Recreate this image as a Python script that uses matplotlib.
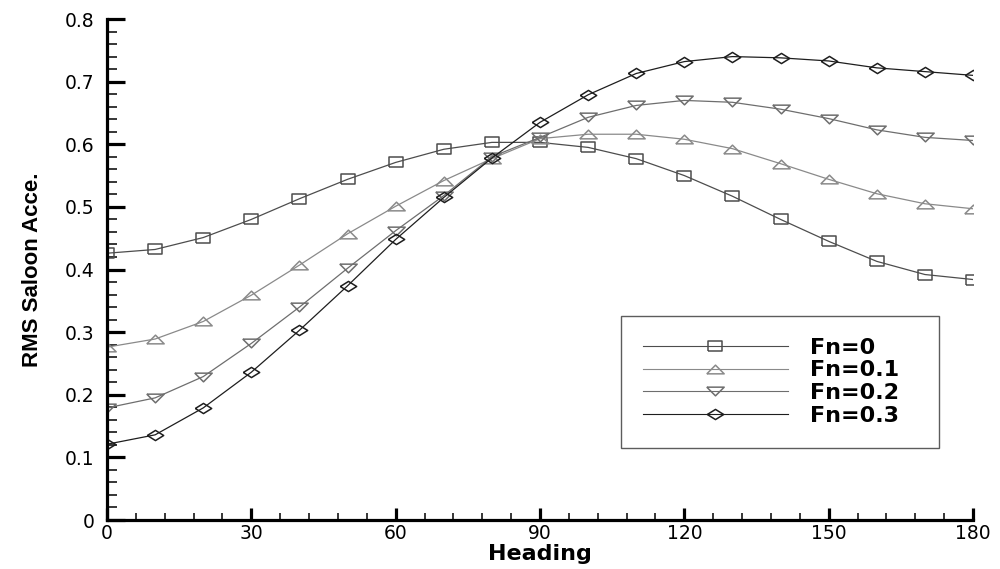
import matplotlib
matplotlib.use("Agg")
import matplotlib.pyplot as plt
from matplotlib import font_manager
from matplotlib.ticker import MultipleLocator, FixedLocator, FixedFormatter

heading = [0, 10, 20, 30, 40, 50, 60, 70, 80, 90, 100, 110, 120, 130, 140, 150, 160, 170, 180]
fn0 = [0.426, 0.432, 0.451, 0.480, 0.513, 0.544, 0.571, 0.592, 0.603, 0.603, 0.595, 0.577, 0.550,
       0.517, 0.480, 0.445, 0.413, 0.392, 0.384]
fn01 = [0.276, 0.289, 0.317, 0.359, 0.407, 0.457, 0.501, 0.542, 0.577, 0.609, 0.616, 0.616, 0.608,
        0.593, 0.569, 0.544, 0.521, 0.505, 0.497]
fn02 = [0.179, 0.195, 0.229, 0.282, 0.340, 0.402, 0.462, 0.518, 0.580, 0.611, 0.643, 0.662, 0.670,
        0.667, 0.656, 0.641, 0.623, 0.611, 0.606]
fn03 = [0.121, 0.136, 0.179, 0.236, 0.303, 0.374, 0.448, 0.515, 0.578, 0.635, 0.679, 0.713, 0.732,
        0.740, 0.738, 0.733, 0.722, 0.716, 0.710]
labels = ["Fn=0", "Fn=0.1", "Fn=0.2", "Fn=0.3"]
yticks = [0, 0.1, 0.2, 0.3, 0.4, 0.5, 0.6, 0.7, 0.8]
ytick_labels = ["0", "0.1", "0.2", "0.3", "0.4", "0.5", "0.6", "0.7", "0.8"]
xticks = [0, 30, 60, 90, 120, 150, 180]

available = {f.name for f in font_manager.fontManager.ttflist}
font = ["DejaVu Sans"]
plt.rcParams["font.family"] = font

if "Liberation Sans Narrow" in available:
    ylab_family, ylab_size = ["Liberation Sans Narrow", "DejaVu Sans"], 19.5
elif "DejaVu Sans Condensed" in available:
    ylab_family, ylab_size = ["DejaVu Sans Condensed", "DejaVu Sans"], 17
else:
    ylab_family, ylab_size = ["Liberation Sans", "DejaVu Sans"], 16

fig = plt.figure(figsize=(10, 5.69), dpi=100)
ax = fig.add_axes([0.107, 0.0861, 0.866, 0.8805])

rect = [(-1, -0.75), (1, -0.75), (1, 0.75), (-1, 0.75), (-1, -0.75)]
tri_up = [(-1, -0.5), (1, -0.5), (0, 0.5), (-1, -0.5)]
tri_dn = [(-1, 0.5), (1, 0.5), (0, -0.5), (-1, 0.5)]
diamond = [(-1, 0), (0, 0.62), (1, 0), (0, -0.62), (-1, 0)]

series = [fn0, fn01, fn02, fn03]
colors = ["#4d4d4d", "#8a8a8a", "#6e6e6e", "#1e1e1e"]
markers = [rect, tri_up, tri_dn, diamond]
msizes = [9.6, 12.5, 12.5, 11.8]
for y, lab, c, m, ms in zip(series, labels, colors, markers, msizes):
    ax.plot(heading, y, color=c, lw=0.9, marker=m, ms=ms, mfc="none", mec=c, mew=1.1, label=lab)

ax.set_xlim(0, 180)
ax.set_ylim(0, 0.8)
ax.spines["top"].set_visible(False)
ax.spines["right"].set_visible(False)
for s in ["left", "bottom"]:
    ax.spines[s].set_linewidth(2.3)
ax.xaxis.set_major_locator(FixedLocator(xticks))
ax.xaxis.set_minor_locator(MultipleLocator(6))
ax.yaxis.set_major_locator(FixedLocator(yticks))
ax.yaxis.set_major_formatter(FixedFormatter(ytick_labels))
ax.yaxis.set_minor_locator(MultipleLocator(0.02))
ax.tick_params(which="both", direction="in", labelsize=13.5)
ax.tick_params(axis="y", which="major", length=13, width=2.3, pad=9)
ax.tick_params(axis="y", which="minor", length=7.5, width=1.1)
ax.tick_params(axis="x", which="major", length=9, width=2.3, pad=3)
ax.tick_params(axis="x", which="minor", length=5, width=1.1)

ax.set_xlabel("Heading", fontsize=16, fontweight="bold", family=font, labelpad=0.5)
ax.set_ylabel("RMS Saloon Acce.", fontsize=ylab_size, fontweight="bold",
              family=ylab_family, labelpad=16)

leg = ax.legend(loc="lower left", bbox_to_anchor=(0.5935, 0.1437, 0.367, 0.26), mode="expand",
                borderaxespad=0, frameon=True, fancybox=False, edgecolor="#333333",
                handlelength=6.5, handletextpad=1.0, borderpad=1.0, labelspacing=0.12,
                prop={"family": font, "weight": "bold", "size": 16})
leg.get_frame().set_linewidth(1.0)
for h in leg.legend_handles:
    h.set_linewidth(0.8)

fig.savefig("out.png", dpi=100)
